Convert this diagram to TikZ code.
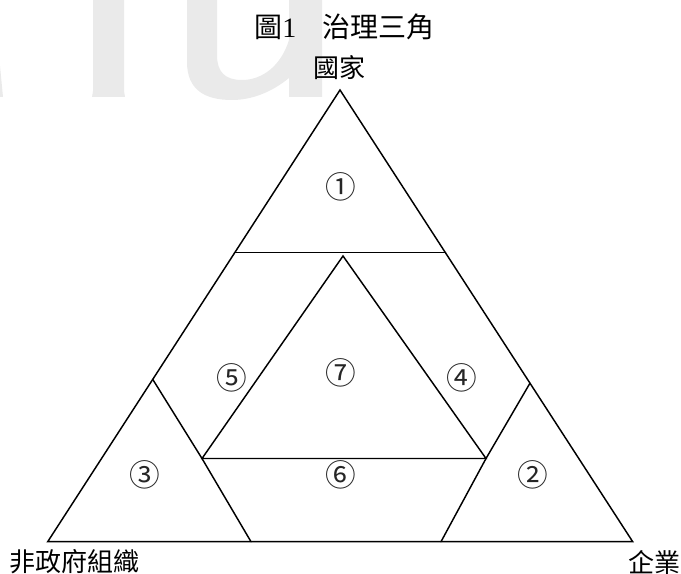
\documentclass[tikz,border=0pt]{standalone}
\usepackage{fontspec}
\setmainfont{Liberation Serif}
\newfontfamily\cjk{Noto Sans CJK TC}
\definecolor{wmgray}{RGB}{234,234,234}
\begin{document}
\begin{tikzpicture}[x=0.75pt,y=-0.75pt,
  edge/.style={line width=1.1pt, black, line join=miter, line cap=round},
  num/.style={font=\cjk\fontsize{23}{23}\selectfont, inner sep=0pt, text=black!85},
  lbl/.style={font=\cjk\fontsize{19.5}{20}\selectfont, inner sep=0pt},
  ttl/.style={font=\fontsize{21}{21}\selectfont, inner sep=0pt},
  wm/.style={fill=wmgray, draw=none}]
\useasboundingbox (0,0) rectangle (681,574);
% watermark
\fill[wm] (0,66) -- (3,97) -- (0,97) -- cycle;
\fill[wm] (93,0) -- (124,0) -- (124,91) -- (125,97) -- (92,97) -- (93,91) -- cycle;
\fill[wm] (187,0) -- (187,62) .. controls (187,90) and (205,100) .. (232,100)
  .. controls (252,100) and (272,92) .. (289,78) -- (289,97) -- (322,97) -- (322,0)
  -- (289,0) -- (289,40) .. controls (281,66) and (262,80) .. (242,80)
  .. controls (225,80) and (217,72) .. (217,55) -- (217,0) -- cycle;
% coordinates
\coordinate (A) at (340,90);
\coordinate (B) at (47.7,541.7);
\coordinate (C) at (632.7,541.7);
\coordinate (P1) at (234.6,252.7);
\coordinate (P2) at (445.4,252.7);
\coordinate (I1) at (343,256);
\coordinate (I2) at (202,458.5);
\coordinate (I3) at (486,458.5);
\coordinate (L1) at (152.7,379.3);
\coordinate (L2) at (251,541.7);
\coordinate (R1) at (529.9,383.3);
\coordinate (R2) at (441,541.7);
% lines
\draw[edge] (A) -- (B) -- (C) -- cycle;
\draw[edge] (P1) -- (P2);
\draw[edge] (I1) -- (I2) -- (I3) -- cycle;
\draw[edge] (L1) -- (I2) -- (L2);
\draw[edge] (R1) -- (I3) -- (R2);
% texts
\node[ttl, anchor=west] (title) at (254,27) {{\cjk 圖}1\hspace{0.95em}{\cjk 治理三角}};
\node[lbl] (state) at (339,68) {國家};
\node[lbl, anchor=west] (ngo) at (9,562) {非政府組織};
\node[lbl, anchor=east] (biz) at (681,562) {企業};
\node[num] (n1) at (341,187) {①};
\node[num] (n5) at (232,378) {⑤};
\node[num] (n7) at (341,373) {⑦};
\node[num] (n4) at (462,378) {④};
\node[num] (n3) at (145,475) {③};
\node[num] (n6) at (341,475) {⑥};
\node[num] (n2) at (533,475) {②};
\end{tikzpicture}
\end{document}
